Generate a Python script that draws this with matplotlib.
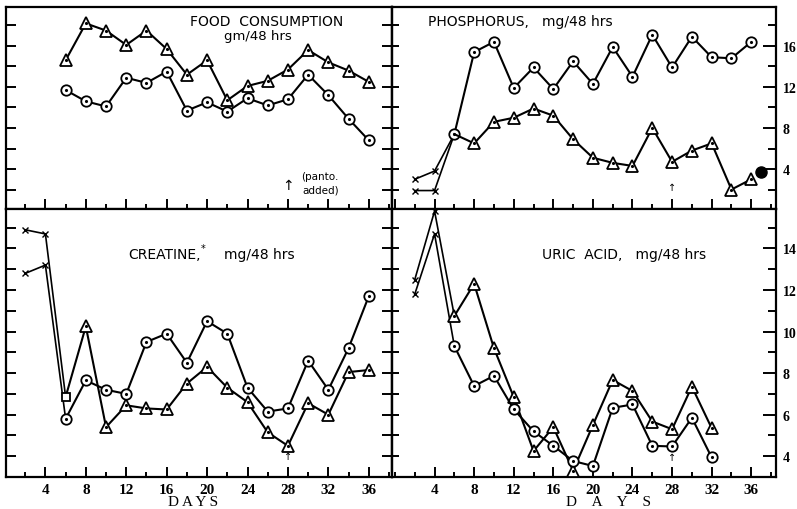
import matplotlib
matplotlib.use("Agg")
import matplotlib.pyplot as plt
from matplotlib.ticker import MultipleLocator

# Collection days (48 hr periods)
food_days = list(range(6, 37, 2))
food_tri = [14.6, 18.2, 17.5, 16.1, 17.5, 15.7, 13.2, 14.6, 10.7, 12.1,
            12.6, 13.7, 15.6, 14.4, 13.6, 12.5]
food_circ = [11.7, 10.6, 10.1, 12.9, 12.4, 13.5, 9.7, 10.5, 9.6, 10.9,
             10.2, 10.8, 13.2, 11.2, 8.9, 6.8]

lead_days = [2, 4]

phos_days = list(range(6, 37, 2))
phos_circ_lead = [1.9, 1.9]
phos_tri_lead = [3.0, 3.8]
phos_circ = [7.4, 15.4, 16.4, 11.9, 13.9, 11.8, 14.5, 12.3, 15.9, 13.0,
             17.1, 13.9, 16.9, 14.9, 14.8, 16.4]
phos_tri = [7.4, 6.5, 8.6, 9.0, 9.9, 9.2, 6.9, 5.1, 4.6, 4.3,
            8.0, 4.7, 5.8, 6.5, 2.0, 3.0]
phos_extra_day = [37]
phos_extra = [3.75]

creat_days = list(range(6, 37, 2))
creat_tri_lead = [14.9, 14.7]
creat_circ_lead = [12.8, 13.2]
creat_tri = [6.85, 10.25, 5.4, 6.45, 6.3, 6.25, 7.5, 8.3, 7.3, 6.6,
             5.15, 4.5, 6.55, 6.0, 8.05, 8.15]
creat_circ = [5.8, 7.65, 7.2, 7.0, 9.5, 9.9, 8.5, 10.5, 9.9, 7.3,
              6.15, 6.3, 8.6, 7.2, 9.2, 11.7]

uric_days = list(range(6, 33, 2))
uric_tri_lead = [12.5, 15.8]
uric_circ_lead = [11.8, 14.7]
uric_tri = [10.75, 12.3, 9.2, 6.85, 4.25, 5.4, 3.3, 5.5, 7.67, 7.14,
            5.67, 5.3, 7.35, 5.35]
uric_circ = [9.3, 7.38, 7.87, 6.26, 5.2, 4.5, 3.77, 3.53, 6.33, 6.49,
             4.5, 4.47, 5.85, 3.94]

day_ticks = list(range(4, 37, 4))
phos_yticks = [4, 8, 12, 16]
uric_yticks = [4, 6, 8, 10, 12, 14]
arrow_day = 28

LW = 1.5
SERIF = "Liberation Serif"


def series(ax, x, y, marker, ms, lead_x=None, lead_y=None, markevery=None):
    if lead_x is not None:
        ax.plot(list(lead_x) + [x[0]], list(lead_y) + [y[0]], color="k",
                lw=1.2, marker="x", ms=4, mew=1.0, markevery=[0, 1])
    ax.plot(x, y, color="k", lw=LW, marker=marker, ms=ms, mfc="white",
            mec="k", mew=1.3, markevery=markevery, zorder=3)
    ax.plot(x, y, ls="none", marker=".", ms=2.5, color="k",
            markevery=markevery, zorder=4)


def frame(ax, xlim, ylim, ystep, right_ticks=None, bottom_labels=False):
    ax.set_xlim(*xlim)
    ax.set_ylim(*ylim)
    for s in ax.spines.values():
        s.set_linewidth(1.6)
    ax.xaxis.set_major_locator(MultipleLocator(4))
    ax.xaxis.set_minor_locator(MultipleLocator(2))
    ax.yaxis.set_major_locator(MultipleLocator(ystep))
    ax.tick_params(axis="x", which="major", direction="in", length=7,
                   width=1.4, top=False, labelbottom=bottom_labels, pad=4)
    ax.tick_params(axis="x", which="minor", direction="in", length=3.5,
                   width=1.4, top=False)
    if bottom_labels:
        ax.set_xticks(day_ticks)
        ax.set_xticklabels([str(d) for d in day_ticks], fontsize=11,
                           fontfamily=SERIF, fontweight="bold")
    if right_ticks:
        ax.yaxis.set_minor_locator(MultipleLocator(ystep))
        ax.tick_params(axis="y", which="major", direction="in",
                       length=9.5, width=1.4, right=True, left=False,
                       labelleft=False, labelright=True, pad=5)
        ax.tick_params(axis="y", which="minor", direction="in",
                       length=5.5, width=1.4, right=True, left=False)
        ax.set_yticks(right_ticks)
        ax.set_yticklabels([str(v) for v in right_ticks], fontsize=10,
                           fontfamily=SERIF, fontweight="bold")
        # ticks along the shared divider on the left
        twin = ax.secondary_yaxis("left")
        twin.yaxis.set_major_locator(MultipleLocator(ystep))
        twin.tick_params(direction="in", length=5, width=1.4,
                         labelleft=False)
        twin.spines["left"].set_linewidth(1.6)
    else:
        ax.tick_params(axis="y", direction="in", length=7, width=1.4,
                       right=True, left=True, labelleft=False)


fig = plt.figure(figsize=(7.97, 5.10), dpi=100)
W, H = 797, 510


def px_axes(x0, y0, x1, y1):
    return fig.add_axes([x0 / W, 1 - y1 / H, (x1 - x0) / W, (y1 - y0) / H])


ax_food = px_axes(6, 8, 392, 210)
ax_phos = px_axes(392, 8, 776, 210)
ax_creat = px_axes(6, 210, 392, 478)
ax_uric = px_axes(392, 210, 776, 478)

# Food consumption
frame(ax_food, (0.1, 38.3), (0.1, 19.8), 2)
series(ax_food, food_days, food_tri, "^", 8)
series(ax_food, food_days, food_circ, "o", 7.5)
ax_food.text(0.676, 0.93, "FOOD  CONSUMPTION", transform=ax_food.transAxes,
             ha="center", va="center", fontsize=10)
ax_food.text(0.653, 0.858, "gm/48 hrs", transform=ax_food.transAxes,
             ha="center", va="center", fontsize=9.5)
ax_food.text(arrow_day, 2.4, "\u2191", ha="center", va="center", fontsize=10)
ax_food.text(arrow_day + 1.3, 3.3, "(panto.", ha="left", va="center",
             fontsize=7.5)
ax_food.text(arrow_day + 1.4, 2.0, "added)", ha="left", va="center",
             fontsize=7.5)

# Phosphorus
frame(ax_phos, (-0.3, 38.5), (0.1, 19.8), 2, right_ticks=phos_yticks)
series(ax_phos, phos_days, phos_circ, "o", 7.5, lead_days, phos_circ_lead)
series(ax_phos, phos_days, phos_tri, "^", 8, lead_days, phos_tri_lead,
       markevery=list(range(1, len(phos_days))))
ax_phos.plot(phos_extra_day, phos_extra, "o", color="k", ms=8)
ax_phos.text(0.094, 0.93, "PHOSPHORUS,   mg/48 hrs",
             transform=ax_phos.transAxes, ha="left", va="center",
             fontsize=10)
ax_phos.text(arrow_day, 2.2, "\u2191", ha="center", va="center", fontsize=7)

# Creatine
frame(ax_creat, (0.1, 38.3), (3.0, 15.9), 1, bottom_labels=True)
series(ax_creat, creat_days, creat_tri, "^", 8, lead_days, creat_tri_lead,
       markevery=list(range(1, len(creat_days))))
ax_creat.plot(creat_days[:1], creat_tri[:1], "s", ms=6, mfc="white",
              mec="k", mew=1.3, zorder=3)
series(ax_creat, creat_days, creat_circ, "o", 7.5, lead_days,
       creat_circ_lead)
ax_creat.text(0.316, 0.832, "CREATINE,", transform=ax_creat.transAxes,
              ha="left", va="center", fontsize=10)
ax_creat.text(0.505, 0.855, "*", transform=ax_creat.transAxes,
              ha="left", va="center", fontsize=7)
ax_creat.text(0.565, 0.832, "mg/48 hrs", transform=ax_creat.transAxes,
              ha="left", va="center", fontsize=10)
ax_creat.text(arrow_day, 4.0, "\u2191", ha="center", va="center",
              fontsize=7)
ax_creat.set_xlabel("D A Y S", fontfamily=SERIF, fontsize=11)
ax_creat.xaxis.set_label_coords(0.484, -0.093)
ax_creat.xaxis.label.set_va("center")

# Uric acid
frame(ax_uric, (-0.3, 38.5), (3.0, 15.9), 1, right_ticks=uric_yticks,
      bottom_labels=True)
series(ax_uric, uric_days, uric_tri, "^", 8, lead_days, uric_tri_lead)
series(ax_uric, uric_days, uric_circ, "o", 7.5, lead_days, uric_circ_lead)
ax_uric.text(0.39, 0.832, "URIC  ACID,   mg/48 hrs",
             transform=ax_uric.transAxes, ha="left", va="center",
             fontsize=10)
ax_uric.text(arrow_day, 3.95, "\u2191", ha="center", va="center",
             fontsize=7)
ax_uric.set_xlabel("D    A    Y    S", fontfamily=SERIF, fontsize=11)
ax_uric.xaxis.set_label_coords(0.564, -0.093)
ax_uric.xaxis.label.set_va("center")

fig.savefig("out.png", dpi=100)
